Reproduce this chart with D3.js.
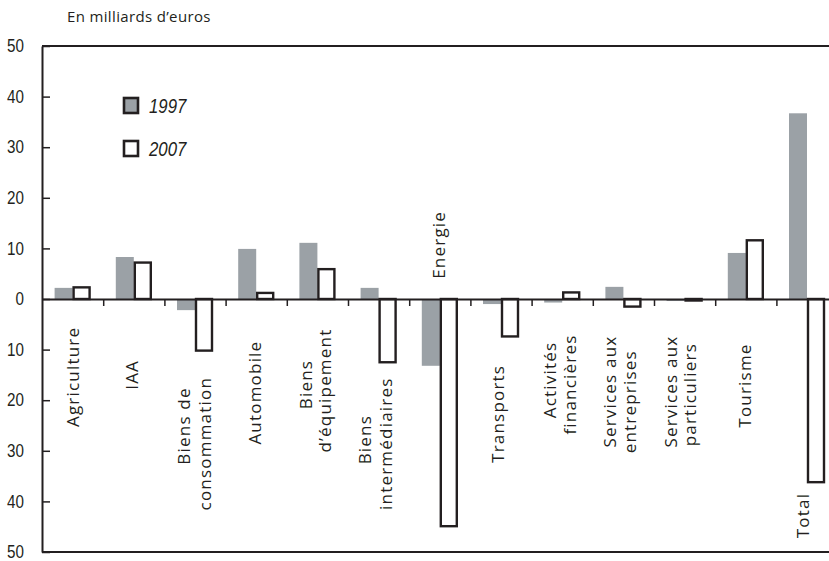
<!DOCTYPE html>
<html>
<head>
<meta charset="utf-8">
<script src="https://cdn.jsdelivr.net/npm/d3@7"></script>
<style>
  body { margin: 0; background: #fff; }
  svg text { fill: #231f20; }
</style>
</head>
<body>
<div id="chart-area"></div>
<script>
/** Data **/
const categories = [
  ['Agriculture'], ['IAA'], ['Biens de', 'consommation'], ['Automobile'],
  ['Biens', 'd\u2019équipement'], ['Biens', 'intermédiaires'], ['Energie'],
  ['Transports'], ['Activités', 'financières'], ['Services aux', 'entreprises'],
  ['Services aux', 'particuliers'], ['Tourisme'], ['Total']
];
const series = ['1997', '2007'];
const v1997 = [2.2, 8.3, -2.2, 9.9, 11.1, 2.2, -13.2, -1.0, -0.7, 2.4, -0.4, 9.1, 36.7];
const v2007 = [2.3, 7.2, -10.2, 1.2, 5.9, -12.5, -44.9, -7.4, 1.3, -1.5, -0.3, 11.6, -36.2];
const yTicks = [-50, -40, -30, -20, -10, 0, 10, 20, 30, 40, 50];
const unitLabel = 'En milliards d\u2019euros';

// label layout: per line [offset from band centre (px), centre in y units]
const labelLayout = [
  [[0, -15.4]], [[-2, -15.0]], [[-12, -25.1], [9, -28.6]], [[-2, -18.5]],
  [[-12, -16.9], [7, -18.1]], [[-14, -27.8], [7, -28.6]], [[-1, 10.7]],
  [[-4, -22.7]], [[-13, -16.0], [7, -16.9]], [[-14, -18.3], [6, -20.3]],
  [[-14, -18.3], [5, -18.9]], [[-1, -17.1]], [[-5, -42.8]]
];

const data = categories.map((c, i) => ({ i: i, lines: c, v: { '1997': v1997[i], '2007': v2007[i] } }));

/** SVG **/
const W = 829, H = 561;
const margin = { left: 42, top: 46, bottom: 9 };
const ink = '#231f20';
const grey = '#9ba1a6';
const narrow = 0.8;   // horizontal squeeze for the digits

const svg = d3.select('#chart-area').append('svg')
  .attr('width', W).attr('height', H)
  .style('font-family', '"Open Sans", sans-serif');

/* Scales */
const step = 61.2;
const x = d3.scaleBand()
  .domain(d3.range(categories.length))
  .range([margin.left, margin.left + step * categories.length])
  .padding(0);
const xEdge = d3.scaleLinear()
  .domain([0, categories.length])
  .range(x.range());
const xSub = d3.scaleBand()
  .domain(series)
  .range([x.bandwidth() / 2 - 18, x.bandwidth() / 2 + 18]);
const y = d3.scaleLinear()
  .domain([-50, 50])
  .range([H - margin.bottom, margin.top]);

/* Title */
svg.append('text')
  .attr('x', 67).attr('y', 22)
  .attr('font-size', '15px')
  .attr('letter-spacing', '0.35px')
  .text(unitLabel);

/* Frame top / bottom */
svg.selectAll('.frame').data([50, -50]).enter().append('line')
  .attr('class', 'frame')
  .attr('x1', xEdge(0)).attr('x2', xEdge(categories.length))
  .attr('y1', d => y(d)).attr('y2', d => y(d))
  .attr('stroke', ink).attr('stroke-width', 2);

/* Bars */
const g = svg.append('g');
const groups = g.selectAll('.grp').data(data).enter().append('g')
  .attr('transform', d => `translate(${x(d.i)},0)`);

groups.append('rect')
  .attr('x', xSub('1997'))
  .attr('width', xSub.bandwidth())
  .attr('y', d => y(Math.max(0, d.v['1997'])))
  .attr('height', d => Math.abs(y(d.v['1997']) - y(0)))
  .attr('fill', grey);

groups.append('rect')
  .attr('x', xSub('2007') + 1)
  .attr('width', xSub.bandwidth() - 2)
  .attr('y', d => y(Math.max(0, d.v['2007'])))
  .attr('height', d => Math.abs(y(d.v['2007']) - y(0)))
  .attr('fill', '#fff')
  .attr('stroke', ink)
  .attr('stroke-width', 2.4);

/* Y axis */
const yAxis = svg.append('g')
  .attr('transform', `translate(${margin.left},0)`)
  .call(d3.axisLeft(y)
    .tickValues(yTicks)
    .tickSizeInner(-8)
    .tickSizeOuter(0)
    .tickPadding(18)
    .tickFormat(d => Math.abs(d)));
yAxis.select('.domain').attr('stroke', ink).attr('stroke-width', 2);
yAxis.selectAll('.tick line').attr('stroke', ink).attr('stroke-width', 1.5);
yAxis.selectAll('.tick text')
  .attr('fill', ink)
  .attr('x', -18 / narrow)
  .attr('dy', '0.3em')
  .attr('transform', `scale(${narrow},1)`)
  .style('font-family', '"Liberation Sans", sans-serif')
  .attr('font-size', '19px');

/* Zero axis with ticks between categories */
const xAxis = svg.append('g')
  .attr('transform', `translate(0,${y(0)})`)
  .call(d3.axisBottom(xEdge)
    .tickValues(d3.range(1, categories.length + 1))
    .tickSizeInner(7)
    .tickSizeOuter(0)
    .tickFormat(''));
xAxis.select('.domain').attr('stroke', ink).attr('stroke-width', 2);
xAxis.selectAll('.tick line').attr('stroke', ink).attr('stroke-width', 1.5);

/* Category labels */
data.forEach(d => {
  d.lines.forEach((t, k) => {
    const lay = labelLayout[d.i][k];
    const cx = x(d.i) + x.bandwidth() / 2 + lay[0];
    const cy = y(lay[1]);
    svg.append('text')
      .attr('transform', `translate(${cx},${cy}) rotate(-90)`)
      .attr('text-anchor', 'middle')
      .attr('dominant-baseline', 'central')
      .attr('font-size', '17px')
      .attr('letter-spacing', '1.2px')
      .text(t);
  });
});

/* Legend */
const legend = svg.append('g').attr('transform', 'translate(124,98)');
const li = legend.selectAll('.lg').data(series).enter().append('g')
  .attr('transform', (d, i) => `translate(0,${i * 43})`);
li.append('rect')
  .attr('width', 14).attr('height', 15)
  .attr('fill', (d, i) => i === 0 ? grey : '#fff')
  .attr('stroke', ink).attr('stroke-width', 2.6);
li.append('text')
  .attr('transform', `scale(${narrow},1)`)
  .attr('x', 25 / narrow).attr('y', 8)
  .attr('dominant-baseline', 'central')
  .style('font-family', '"Liberation Sans", sans-serif')
  .attr('font-style', 'italic')
  .attr('font-size', '21px')
  .text(d => d);
</script>
</body>
</html>
